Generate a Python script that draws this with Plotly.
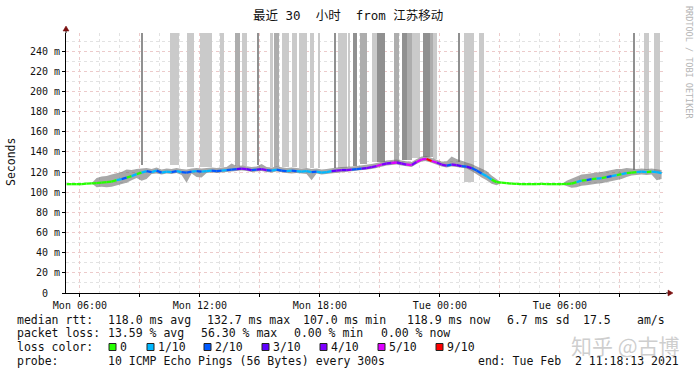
import pandas as pd
import plotly.graph_objects as go

# ---------------- data ----------------
sample_start = "2021-02-01 05:20"       # median samples every 15 min
range_start = "2021-02-01 05:18:13"
range_end = "2021-02-02 11:18:13"

median_ms = [
    108, 108, 108, 108, 108.5, 108.8, 109, 109.5, 110, 110.5,
    112, 113, 114.5, 116, 118, 119.5, 121, 120, 121.5, 119.5,
    120.5, 120, 121, 120, 119.5, 120.5, 121, 120.5, 121, 121.5,
    121, 121.5, 122, 122.5, 123, 123.5, 123, 122, 122.5, 123,
    122, 121.5, 122.5, 121.5, 121, 121.5, 121, 120.5, 121, 120,
    120.5, 119.5, 120, 121, 121.5, 122, 122, 122.5, 123, 123.5,
    124, 125, 126, 127.5, 128.5, 129, 129.5, 128.5, 127.5, 127,
    130, 132.5, 133, 131, 129.5, 127.5, 126.5, 127.5, 127, 126,
    125.5, 124, 121.5, 118.5, 116, 112.5, 110, 109.5, 109, 108.5,
    108.2, 108, 108, 108, 108, 108.2, 108, 108, 108, 108,
    108.3, 108.5, 110, 111.5, 112, 113, 113.5, 114, 115, 116,
    117, 118, 119, 119.5, 120, 120.5, 120, 120.5, 120, 119,
]

loss_tenths = [
    0, 0, 0, 0, 0, 0, 0, 0, 0, 0,
    1, 2, 0, 1, 0, 1, 2, 1, 2, 1,
    1, 2, 1, 2, 2, 1, 2, 1, 1, 2,
    2, 1, 2, 2, 3, 4, 3, 2, 3, 4,
    2, 1, 2, 2, 1, 2, 1, 1, 1, 2,
    1, 1, 1, 3, 4, 3, 4, 2, 2, 3,
    4, 4, 5, 4, 4, 5, 4, 4, 5, 4,
    5, 5, 9, 5, 4, 4, 2, 4, 3, 2,
    3, 2, 2, 1, 1, 0, 0, 0, 0, 0,
    0, 0, 0, 0, 0, 0, 0, 0, 0, 0,
    0, 0, 1, 0, 2, 0, 1, 0, 2, 1,
    0, 1, 0, 0, 1, 1, 0, 1, 1, 1,
]

smoke_down_ms = [
    0, 0, 0, 0, 0, 0, 4, 4, 5, 5,
    5, 5, 5, 4, 4, 8, 8, 2, 3, 2,
    2, 2, 2, 3, 10, 2, 6, 6, 2, 2,
    2, 2, 2, 2, 2, 2, 2, 2, 2, 2,
    2, 2, 2, 2, 2, 3, 2, 2, 3, 8,
    2, 2, 2, 2, 2, 2, 2, 2, 2, 2,
    2, 2, 2, 2, 2, 2, 2, 2, 2, 2,
    2, 2, 2, 2, 2, 2, 2, 2, 2, 2,
    2, 3, 4, 4, 4, 4, 3, 0, 0, 0,
    0, 0, 0, 0, 0, 0, 0, 0, 0, 0,
    2, 4, 5, 5, 5, 5, 5, 5, 5, 5,
    5, 5, 4, 3, 3, 3, 3, 3, 8, 6,
]

smoke_up_ms = [
    0, 0, 0, 0, 0, 0, 5, 6, 6, 7,
    7, 7, 8, 6, 5, 4, 3, 3, 3, 3,
    3, 3, 3, 3, 3, 3, 3, 3, 3, 3,
    3, 3, 3, 6, 3, 3, 3, 3, 3, 5,
    3, 3, 3, 3, 3, 3, 3, 3, 3, 3,
    3, 3, 3, 3, 3, 3, 3, 3, 3, 3,
    3, 3, 3, 3, 3, 3, 3, 3, 3, 3,
    3, 3, 3, 3, 3, 3, 4, 8, 6, 5,
    4, 4, 4, 5, 5, 4, 3, 0, 0, 0,
    0, 0, 0, 0, 0, 0, 0, 0, 0, 0,
    3, 5, 6, 6, 6, 6, 6, 6, 6, 6,
    6, 5, 5, 4, 3, 3, 3, 3, 3, 3,
]

# tall smoke (max rtt off the chart)
bar_start = [
    "2021-02-01 09:05", "2021-02-01 10:30", "2021-02-01 11:21", "2021-02-01 12:00",
    "2021-02-01 13:00", "2021-02-01 13:45", "2021-02-01 14:06", "2021-02-01 14:51",
    "2021-02-01 15:30", "2021-02-01 15:42", "2021-02-01 16:06", "2021-02-01 16:36",
    "2021-02-01 16:57", "2021-02-01 17:30", "2021-02-01 17:54", "2021-02-01 18:45",
    "2021-02-01 18:54", "2021-02-01 19:24", "2021-02-01 19:39", "2021-02-01 20:00",
    "2021-02-01 20:36", "2021-02-01 20:51", "2021-02-01 21:42", "2021-02-01 22:06",
    "2021-02-01 22:21", "2021-02-01 22:36", "2021-02-01 23:09", "2021-02-01 23:30",
    "2021-02-01 23:39", "2021-02-02 00:54", "2021-02-02 01:12", "2021-02-02 01:57",
    "2021-02-02 09:42", "2021-02-02 10:12", "2021-02-02 10:42",
]
bar_end = [
    "2021-02-01 09:10", "2021-02-01 10:57", "2021-02-01 11:42", "2021-02-01 12:36",
    "2021-02-01 13:12", "2021-02-01 14:00", "2021-02-01 14:21", "2021-02-01 14:57",
    "2021-02-01 15:39", "2021-02-01 15:57", "2021-02-01 16:27", "2021-02-01 16:51",
    "2021-02-01 17:21", "2021-02-01 17:42", "2021-02-01 18:00", "2021-02-01 18:48",
    "2021-02-01 19:21", "2021-02-01 19:30", "2021-02-01 19:51", "2021-02-01 20:21",
    "2021-02-01 20:51", "2021-02-01 21:15", "2021-02-01 21:57", "2021-02-01 22:21",
    "2021-02-01 22:36", "2021-02-01 23:00", "2021-02-01 23:30", "2021-02-01 23:39",
    "2021-02-01 23:51", "2021-02-02 01:00", "2021-02-02 01:42", "2021-02-02 02:12",
    "2021-02-02 09:45", "2021-02-02 10:27", "2021-02-02 11:00",
]
bar_low_ms = [
    127, 127, 125, 125, 125, 126, 126, 127, 125, 125, 125, 125,
    124, 124, 124, 124, 124, 125, 126, 128, 130, 130, 129, 132,
    132, 134, 135, 135, 133, 130, 110, 120, 122, 122, 120,
]
bar_shade = [
    2, 0, 0, 0, 0, 1, 0, 2, 0, 1, 0, 0,
    0, 0, 0, 2, 0, 0, 2, 1, 0, 2, 1, 2,
    1, 0, 2, 1, 0, 2, 0, 0, 2, 0, 0,
]
smoke_ceiling_ms = 260

x_tick_vals = ["2021-02-01 06:00", "2021-02-01 09:00", "2021-02-01 12:00", "2021-02-01 15:00",
               "2021-02-01 18:00", "2021-02-01 21:00", "2021-02-02 00:00", "2021-02-02 03:00",
               "2021-02-02 06:00", "2021-02-02 09:00"]
x_tick_text = ["Mon 06:00", "", "Mon 12:00", "", "Mon 18:00", "", "Tue 00:00", "", "Tue 06:00", ""]
y_tick_vals = [0, 20, 40, 60, 80, 100, 120, 140, 160, 180, 200, 220, 240]
y_tick_text = ["0\u00a0\u00a0", "20 m", "40 m", "60 m", "80 m", "100 m", "120 m", "140 m",
               "160 m", "180 m", "200 m", "220 m", "240 m"]

loss_levels = [0, 1, 2, 3, 4, 5, 9]
loss_labels = ["0", "1/10", "2/10", "3/10", "4/10", "5/10", "9/10"]
loss_colors = ["#26ff00", "#00b8ff", "#0059ff", "#5e00ff", "#7e00ff", "#dd00ff", "#ff0000"]
shade_colors = ["#cacaca", "#adadad", "#909090"]

# ---------------- geometry helpers ----------------
W, H = 697, 375
ML, MR, MT, MB = 66, 31, 33, 82
PW, PH = W - ML - MR, H - MT - MB


def fx(px):
    return (px - ML) / PW


def fy(py):
    return (H - MB - py) / PH


MONO = "DejaVu Sans Mono, Noto Sans CJK SC, monospace"

fig = go.Figure()

# tall smoke bars
bs = pd.to_datetime(bar_start)
be = pd.to_datetime(bar_end)
for lvl, col in enumerate(shade_colors):
    idx = [i for i, s in enumerate(bar_shade) if s == lvl]
    fig.add_trace(go.Bar(
        x=[bs[i] + (be[i] - bs[i]) / 2 for i in idx],
        width=[(be[i] - bs[i]).total_seconds() * 1000 for i in idx],
        base=[bar_low_ms[i] for i in idx],
        y=[smoke_ceiling_ms - bar_low_ms[i] for i in idx],
        marker=dict(color=col, line=dict(width=0)),
        hoverinfo="skip", showlegend=False,
    ))

times = pd.date_range(sample_start, periods=len(median_ms), freq="15min")

# smoke band near median
lo = [m - d for m, d in zip(median_ms, smoke_down_ms)]
hi = [m + u for m, u in zip(median_ms, smoke_up_ms)]
fig.add_trace(go.Scatter(x=times, y=lo, mode="lines", line=dict(width=0, color="rgba(0,0,0,0)"),
                         hoverinfo="skip", showlegend=False))
fig.add_trace(go.Scatter(x=times, y=hi, mode="lines", line=dict(width=0, color="rgba(0,0,0,0)"),
                         fill="tonexty", fillcolor="rgba(110,110,110,0.6)",
                         hoverinfo="skip", showlegend=False))

# median line coloured by loss
for lvl, col in zip(loss_levels, loss_colors):
    xs, ys = [], []
    for k in range(len(median_ms) - 1):
        if loss_tenths[k] == lvl:
            xs += [times[k], times[k + 1], None]
            ys += [median_ms[k], median_ms[k + 1], None]
    if xs:
        fig.add_trace(go.Scatter(x=xs, y=ys, mode="lines",
                                 line=dict(color=col, width=2.3),
                                 hoverinfo="skip", showlegend=False))

shapes = []
# axis arrows
arrow_col = "#7a1010"
shapes.append(dict(type="line", xref="paper", yref="paper", x0=0, x1=0, y0=1, y1=fy(29),
                   line=dict(color="black", width=1)))
shapes.append(dict(type="path", xref="paper", yref="paper",
                   path=f"M {fx(63)},{fy(31)} L {fx(69)},{fy(31)} L {fx(66)},{fy(26)} Z",
                   fillcolor=arrow_col, line=dict(color=arrow_col, width=0.5)))
shapes.append(dict(type="line", xref="paper", yref="paper", x0=1, x1=fx(669), y0=0, y1=0,
                   line=dict(color="black", width=1)))
shapes.append(dict(type="path", xref="paper", yref="paper",
                   path=f"M {fx(668)},{fy(290)} L {fx(668)},{fy(296)} L {fx(673)},{fy(293)} Z",
                   fillcolor=arrow_col, line=dict(color=arrow_col, width=0.5)))

annotations = []


def txt(x, y, s, size=11.5, color="#111", anchor="left", family=MONO, angle=0):
    annotations.append(dict(x=fx(x), y=fy(y), xref="paper", yref="paper", text=s,
                            showarrow=False, xanchor=anchor, yanchor="middle",
                            textangle=angle, borderpad=0,
                            font=dict(family=family, size=size, color=color)))


txt(348, 15, "最近\u00a030\u00a0\u00a0小时\u00a0\u00a0from\u00a0江苏移动", size=12.5, anchor="center")
txt(11, 162, "Seconds", size=11.5, anchor="center", angle=-90)
txt(689, 62, "RRDTOOL / TOBI OETIKER", size=8.5, color="#b4b4b4", anchor="center", angle=90)

# statistics rows
txt(16, 320, "median rtt:")
txt(107, 320, "118.0 ms avg")
txt(206, 320, "132.7 ms max")
txt(302, 320, "107.0 ms min")
txt(406, 320, "118.9 ms now")
txt(506, 320, "6.7 ms sd")
txt(582, 320, "17.5")
txt(636, 320, "am/s")

txt(16, 333, "packet loss:")
txt(107, 333, "13.59 % avg")
txt(200, 333, "56.30 % max")
txt(293, 333, "0.00 % min")
txt(380, 333, "0.00 % now")

txt(16, 347, "loss color:")
sq_x = [109, 147, 204, 262, 320, 378, 436]
for sx, lab, col in zip(sq_x, loss_labels, loss_colors):
    shapes.append(dict(type="rect", xref="paper", yref="paper",
                       x0=fx(sx), x1=fx(sx + 7), y0=fy(350.5), y1=fy(343.5),
                       fillcolor=col, line=dict(color="#222", width=1)))
    txt(sx + 10, 347, lab)

txt(16, 361, "probe:")
txt(107, 361, "10 ICMP Echo Pings (56 Bytes) every 300s")
txt(680, 361, "end: Tue Feb\u00a0\u00a02 11:18:13 2021", anchor="right")

# watermark
txt(625, 345, "知乎 @古博", size=21, color="rgba(185,185,185,0.7)", anchor="center",
    family="Noto Sans CJK SC")

fig.update_layout(
    width=W, height=H,
    margin=dict(l=ML, r=MR, t=MT, b=MB, pad=0),
    paper_bgcolor="white", plot_bgcolor="white",
    barmode="overlay", bargap=0,
    showlegend=False,
    shapes=shapes, annotations=annotations,
    xaxis=dict(
        type="date", range=[range_start, range_end],
        tickmode="array", tickvals=x_tick_vals, ticktext=x_tick_text,
        showgrid=True, gridcolor="#eccaca", griddash="dot", gridwidth=1,
        minor=dict(dtick=3600000, tick0="2021-02-01 00:00", showgrid=True,
                   gridcolor="#e2e2e2", griddash="dot", gridwidth=1, ticks=""),
        showline=True, linecolor="black", linewidth=1,
        ticks="outside", ticklen=3, tickcolor="black",
        tickfont=dict(family=MONO, size=10, color="#111"),
        zeroline=False, fixedrange=True,
    ),
    yaxis=dict(
        range=[0, 258],
        tickmode="array", tickvals=y_tick_vals, ticktext=y_tick_text,
        showgrid=True, gridcolor="#eccaca", griddash="dot", gridwidth=1,
        minor=dict(dtick=10, tick0=0, showgrid=True, gridcolor="#e2e2e2",
                   griddash="dot", gridwidth=1, ticks=""),
        showline=True, linecolor="black", linewidth=1,
        ticks="outside", ticklen=3, tickcolor="black",
        tickfont=dict(family=MONO, size=10, color="#111"),
        zeroline=False, fixedrange=True,
    ),
)

fig.write_html("out.html", config={"displayModeBar": False},
               post_script="document.body.style.margin='0';document.body.style.padding='0';")
